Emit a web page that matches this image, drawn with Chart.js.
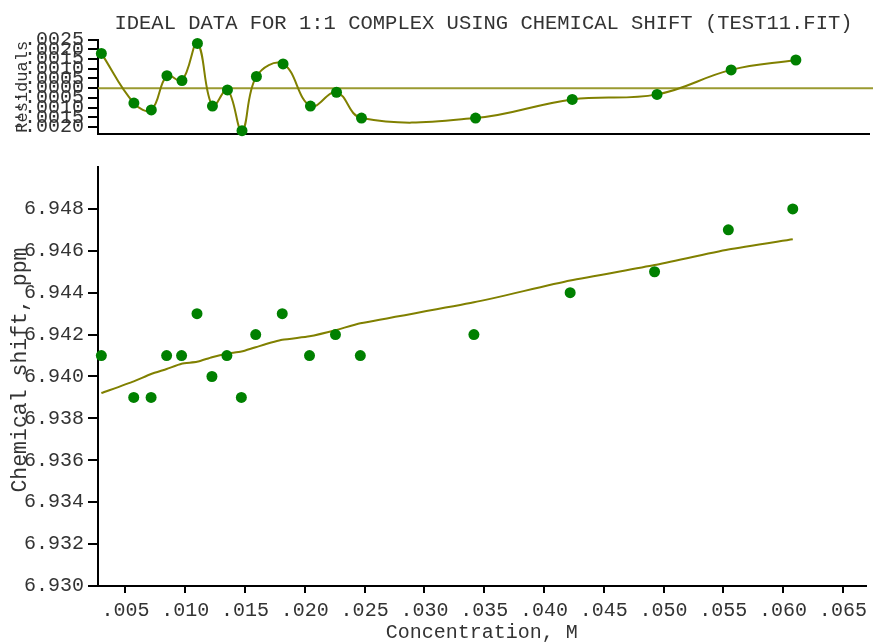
<!DOCTYPE html>
<html>
<head>
<meta charset="utf-8">
<script src="https://cdn.jsdelivr.net/npm/chart.js@4"></script>
<style>
  body { margin: 0; background: #fff; }
  #wrap { position: relative; width: 873px; height: 644px; }
  canvas { position: absolute; left: 0; }
</style>
</head>
<body>
<div id="wrap">
  <canvas id="resid" width="873" height="150" style="top:0"></canvas>
  <canvas id="main" width="873" height="494" style="top:150px"></canvas>
</div>
<script>
// values
const concentration = [0.00298, 0.00569, 0.00714, 0.00844, 0.00969, 0.01098, 0.01223, 0.01348, 0.01469, 0.01589,
                       0.01811, 0.02039, 0.02256, 0.02464, 0.03414, 0.04219, 0.04925, 0.05542, 0.06081];
const shiftObserved = [6.941, 6.939, 6.939, 6.941, 6.941, 6.943, 6.940, 6.941, 6.939, 6.942,
                       6.943, 6.941, 6.942, 6.941, 6.942, 6.944, 6.945, 6.947, 6.948];
const shiftFitted = [6.93921, 6.93977, 6.94012, 6.94036, 6.94061, 6.94070, 6.94092, 6.94109, 6.94119, 6.94140,
                     6.94175, 6.94192, 6.94221, 6.94254, 6.94354, 6.94458, 6.94532, 6.94606, 6.94655];
const residuals = [0.00179, -0.00077, -0.00112, 0.00064, 0.00039, 0.00230, -0.00092, -0.00009, -0.00219, 0.00060,
                   0.00125, -0.00092, -0.00021, -0.00154, -0.00154, -0.00058, -0.00032, 0.00094, 0.00145];

const xTicks = [0.005, 0.010, 0.015, 0.020, 0.025, 0.030, 0.035, 0.040, 0.045, 0.050, 0.055, 0.060, 0.065];
const shiftTicks = [6.930, 6.932, 6.934, 6.936, 6.938, 6.940, 6.942, 6.944, 6.946, 6.948];
const residTicks = [0.0025, 0.0020, 0.0015, 0.0010, 0.0005, 0, -0.0005, -0.0010, -0.0015, -0.0020];

const X_MIN = 0.0027, X_MAX = 0.0669;
const OLIVE = "#808000";
const GREEN = "#008000";
const TXT = "#333";

Chart.defaults.font.family = "'Liberation Mono', 'Courier New', monospace";
Chart.defaults.font.size = 20;
Chart.defaults.color = TXT;
Chart.defaults.animation = false;

const pts = (xs, ys) => xs.map((x, i) => ({ x: x, y: ys[i] }));

function xAxis(withLabels) {
    return {
        type: "linear",
        min: X_MIN,
        max: X_MAX,
        afterBuildTicks: s => { s.ticks = xTicks.map(v => ({ value: v })); },
        grid: { drawOnChartArea: false, drawTicks: withLabels, tickLength: 7, color: "#000", lineWidth: 2 },
        border: { display: true, color: "#000", width: 2 },
        ticks: {
            display: withLabels, padding: 6, autoSkip: false, maxRotation: 0,
            callback: v => v.toFixed(3).replace(/^0/, "")
        },
        title: {
            display: withLabels, text: "Concentration, M",
            font: { size: 20, lineHeight: 1 }, padding: { top: 0, bottom: 1 }
        },
        afterFit: s => { s.height = withLabels ? 58 : 15; }
    };
}

function yAxis(min, max, tickVals, fmt, label, titleSize, titlePad) {
    return {
        min: min,
        max: max,
        afterBuildTicks: s => { s.ticks = tickVals.map(v => ({ value: v })); },
        grid: { drawOnChartArea: false, tickLength: 10, color: "#000", lineWidth: 2 },
        border: { display: true, color: "#000", width: 2 },
        ticks: { padding: 4, autoSkip: false, callback: fmt },
        title: {
            display: true, text: label,
            font: { size: titleSize, lineHeight: 1 }, padding: { top: titlePad, bottom: 0 }
        },
        afterFit: s => { s.width = 98; }
    };
}

// residuals panel
new Chart(document.getElementById("resid"), {
    type: "scatter",
    data: {
        datasets: [{
            data: pts(concentration, residuals),
            pointRadius: 5.5,
            pointBackgroundColor: GREEN,
            pointBorderWidth: 0,
            clip: false
        }, {
            data: pts(concentration, residuals),
            showLine: true,
            pointRadius: 0,
            borderColor: OLIVE,
            borderWidth: 2,
            tension: 0.4,
            clip: false
        }, {
            data: [{ x: X_MIN, y: 0 }, { x: 0.06725, y: 0 }],
            showLine: true,
            pointRadius: 0,
            borderColor: "#9a9a30",
            borderWidth: 2,
            clip: false
        }]
    },
    options: {
        responsive: false,
        layout: { autoPadding: false, padding: { left: 0, right: 4, top: 0, bottom: 0 } },
        plugins: {
            legend: { display: false },
            tooltip: { enabled: false },
            title: {
                display: true,
                fullSize: false,
                text: "IDEAL DATA FOR 1:1 COMPLEX USING CHEMICAL SHIFT (TEST11.FIT)",
                color: TXT,
                font: { size: 20.5, weight: "normal" },
                padding: { top: 11, bottom: 4 }
            }
        },
        scales: {
            x: xAxis(false),
            y: yAxis(-0.00236, 0.0025, residTicks, v => v.toFixed(4).replace("0.", "."), "Residuals", 17, 14)
        }
    }
});

// chemical shift panel
new Chart(document.getElementById("main"), {
    type: "scatter",
    data: {
        datasets: [{
            data: pts(concentration, shiftObserved),
            pointRadius: 5.5,
            pointBackgroundColor: GREEN,
            pointBorderWidth: 0,
            clip: false
        }, {
            data: pts(concentration, shiftFitted),
            showLine: true,
            pointRadius: 0,
            borderColor: OLIVE,
            borderWidth: 2,
            tension: 0.2
        }]
    },
    options: {
        responsive: false,
        layout: { autoPadding: false, padding: { left: 0, right: 4, top: 17, bottom: 0 } },
        plugins: {
            legend: { display: false },
            tooltip: { enabled: false }
        },
        scales: {
            x: xAxis(true),
            y: yAxis(6.930, 6.950, shiftTicks, v => v.toFixed(3), " Chemical shift, ppm", 21.5, 10)
        }
    }
});
</script>
</body>
</html>
